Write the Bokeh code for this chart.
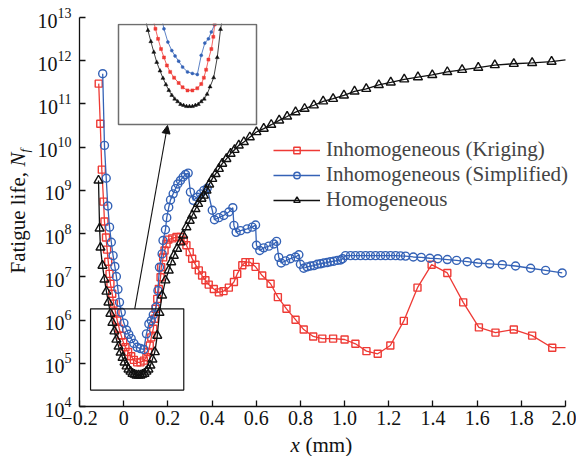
import math
from bokeh.plotting import figure
from bokeh.models import (Range1d, LogScale, LinearScale, FixedTicker, Label, Legend,
                          LegendItem, Arrow, NormalHead)
from bokeh.embed import file_html
from bokeh.resources import INLINE

# ---------------- data ----------------
x_ticks = [-0.2, 0, 0.2, 0.4, 0.6, 0.8, 1.0, 1.2, 1.4, 1.6, 1.8, 2.0]
x_tick_labels = ["\u22120.2", "0", "0.2", "0.4", "0.6", "0.8", "1.0", "1.2", "1.4", "1.6", "1.8", "2.0"]
y_ticks = [1e4, 1e5, 1e6, 1e7, 1e8, 1e9, 1e10, 1e11, 1e12, 1e13]

series_names = ["Inhomogeneous (Kriging)", "Inhomogeneous (Simplified)", "Homogeneous"]

homo_x = [-0.114, -0.109, -0.105, -0.096, -0.087, -0.078, -0.069, -0.060, -0.051, -0.042,
          -0.033, -0.023, -0.014, -0.005, 0.004, 0.013, 0.022, 0.031, 0.040, 0.049,
          0.058, 0.067, 0.076, 0.085, 0.094, 0.103, 0.112, 0.121, 0.130, 0.141,
          0.152, 0.162, 0.174, 0.189, 0.204, 0.215, 0.227, 0.242, 0.257, 0.269,
          0.284, 0.299, 0.310, 0.325, 0.337, 0.352, 0.363, 0.375, 0.387, 0.401,
          0.416, 0.431, 0.446, 0.465, 0.484, 0.502, 0.521, 0.544, 0.571, 0.601,
          0.634, 0.668, 0.704, 0.740, 0.778, 0.819, 0.861, 0.903, 0.948, 0.997,
          1.045, 1.098, 1.155, 1.209, 1.270, 1.332, 1.397, 1.465, 1.532, 1.605,
          1.680, 1.766, 1.849, 1.937]
homo_N = [1.70e9, 1.32e8, 4.79e7, 1.82e7, 8.71e6, 4.57e6, 2.57e6, 1.41e6, 8.71e5, 5.50e5,
          3.55e5, 2.45e5, 1.78e5, 1.35e5, 1.05e5, 8.51e4, 7.24e4, 6.46e4, 5.75e4, 5.50e4,
          5.25e4, 5.25e4, 5.25e4, 5.50e4, 5.75e4, 6.46e4, 7.24e4, 8.91e4, 1.23e5, 1.82e5,
          4.37e5, 1.48e6, 3.72e6, 8.32e6, 1.41e7, 2.19e7, 3.09e7, 4.47e7, 6.31e7, 9.12e7,
          1.41e8, 2.00e8, 2.63e8, 3.72e8, 4.90e8, 6.46e8, 7.59e8, 1.00e9, 1.38e9, 1.86e9,
          2.40e9, 3.16e9, 4.17e9, 5.37e9, 7.08e9, 8.71e9, 1.10e10, 1.32e10, 1.70e10, 2.24e10,
          2.69e10, 3.31e10, 4.17e10, 5.13e10, 6.46e10, 7.76e10, 9.33e10, 1.15e11, 1.32e11, 1.58e11,
          1.95e11, 2.24e11, 2.75e11, 3.16e11, 3.72e11, 4.17e11, 4.68e11, 5.50e11, 6.17e11, 6.92e11,
          7.94e11, 8.51e11, 8.91e11, 9.55e11]
homo_tail_x = [2.0]
homo_tail_N = [1.05e12]

simp_x = [-0.095, -0.087, -0.079, -0.072, -0.064, -0.056, -0.048, -0.040, -0.033, -0.026,
          -0.019, -0.011, 0.001, 0.013, 0.023, 0.034, 0.046, 0.061, 0.076, 0.091,
          0.103, 0.114, 0.125, 0.134, 0.147, 0.155, 0.162, 0.174, 0.178, 0.189,
          0.195, 0.204, 0.212, 0.224, 0.235, 0.245, 0.257, 0.269, 0.280, 0.292,
          0.302, 0.315, 0.333, 0.348, 0.363, 0.378, 0.401, 0.411, 0.431, 0.453,
          0.476, 0.494, 0.499, 0.509, 0.529, 0.559, 0.582, 0.597, 0.601, 0.616,
          0.634, 0.657, 0.680, 0.692, 0.702, 0.713, 0.733, 0.755, 0.778, 0.793,
          0.800, 0.815, 0.830, 0.846, 0.861, 0.876, 0.891, 0.906, 0.921, 0.936,
          0.951, 0.967, 0.982, 0.991, 1.004, 1.027, 1.049, 1.072, 1.095, 1.117,
          1.140, 1.163, 1.185, 1.208, 1.231, 1.253, 1.276, 1.311, 1.347, 1.386,
          1.422, 1.465, 1.507, 1.555, 1.603, 1.657, 1.714, 1.774, 1.842, 1.910,
          1.985]
simp_N = [5.01e11, 1.10e10, 1.91e9, 4.37e8, 1.41e8, 6.31e7, 3.09e7, 1.74e7, 1.02e7, 5.13e6,
          2.57e6, 1.51e6, 8.51e5, 5.89e5, 4.68e5, 3.72e5, 2.88e5, 2.34e5, 2.19e5, 2.09e5,
          4.79e5, 8.13e5, 9.77e5, 1.32e6, 2.00e6, 4.79e6, 1.66e7, 3.39e7, 6.92e7, 1.23e8,
          2.34e8, 4.07e8, 6.03e8, 8.32e8, 1.10e9, 1.41e9, 1.70e9, 2.04e9, 2.34e9, 2.51e9,
          9.12e8, 5.89e8, 6.92e8, 8.32e8, 1.00e9, 1.12e9, 3.47e8, 2.09e8, 2.34e8, 2.63e8,
          3.16e8, 3.98e8, 1.55e8, 1.07e8, 1.17e8, 1.29e8, 1.41e8, 1.58e8, 5.37e7, 4.07e7,
          4.68e7, 5.13e7, 5.75e7, 6.61e7, 2.82e7, 2.09e7, 2.34e7, 2.63e7, 2.88e7, 3.24e7,
          1.95e7, 1.58e7, 1.70e7, 1.78e7, 1.82e7, 1.95e7, 2.00e7, 2.09e7, 2.14e7, 2.24e7,
          2.29e7, 2.40e7, 2.45e7, 2.63e7, 3.09e7, 3.09e7, 3.09e7, 3.09e7, 3.09e7, 3.09e7,
          3.09e7, 3.09e7, 3.09e7, 3.09e7, 3.09e7, 3.05e7, 3.02e7, 2.88e7, 2.82e7, 2.69e7,
          2.63e7, 2.51e7, 2.40e7, 2.24e7, 2.09e7, 2.00e7, 1.91e7, 1.78e7, 1.58e7, 1.41e7,
          1.23e7]

krig_x = [-0.113, -0.106, -0.099, -0.091, -0.087, -0.080, -0.075, -0.070, -0.064, -0.060,
          -0.052, -0.045, -0.037, -0.029, -0.020, -0.011, -0.002, 0.008, 0.020, 0.034,
          0.046, 0.061, 0.076, 0.091, 0.103, 0.111, 0.118, 0.125, 0.134, 0.140,
          0.144, 0.152, 0.159, 0.167, 0.170, 0.179, 0.185, 0.194, 0.202, 0.220,
          0.239, 0.257, 0.272, 0.284, 0.299, 0.310, 0.325, 0.340, 0.355, 0.370,
          0.385, 0.408, 0.431, 0.452, 0.476, 0.499, 0.514, 0.537, 0.551, 0.571,
          0.597, 0.627, 0.665, 0.698, 0.737, 0.778, 0.815, 0.858, 0.899, 0.948,
          1.000, 1.049, 1.099, 1.150, 1.207, 1.268, 1.330, 1.394, 1.465, 1.537,
          1.608, 1.683, 1.766, 1.849, 1.940]
krig_N = [2.95e11, 3.47e10, 3.02e9, 5.50e8, 1.91e8, 8.13e7, 4.27e7, 2.24e7, 1.17e7, 6.92e6,
          4.07e6, 2.40e6, 1.51e6, 9.77e5, 6.31e5, 4.37e5, 3.09e5, 2.34e5, 1.82e5, 1.45e5,
          1.20e5, 1.05e5, 1.05e5, 1.15e5, 1.38e5, 1.82e5, 2.57e5, 3.98e5, 6.31e5, 1.07e6,
          1.82e6, 3.09e6, 5.25e6, 9.77e6, 1.66e7, 2.82e7, 4.07e7, 5.75e7, 7.24e7, 7.76e7,
          8.32e7, 8.32e7, 6.92e7, 5.37e7, 3.72e7, 2.63e7, 1.91e7, 1.41e7, 1.07e7, 8.32e6,
          6.61e6, 5.25e6, 4.37e6, 4.68e6, 5.62e6, 7.59e6, 1.17e7, 1.86e7, 2.19e7, 2.19e7,
          1.70e7, 1.07e7, 6.92e6, 3.39e6, 1.82e6, 1.02e6, 6.03e5, 4.17e5, 3.72e5, 3.72e5,
          3.55e5, 2.82e5, 1.91e5, 1.66e5, 2.57e5, 9.55e5, 5.62e6, 1.91e7, 1.23e7, 2.57e6,
          6.76e5, 5.13e5, 6.03e5, 4.37e5, 2.29e5]
krig_tail_x = [2.0]
krig_tail_N = [2.29e5]

# magnified window shown in the inset (data units)
zoom_x = (-0.15, 0.272)
zoom_N = (2.40e4, 1.82e6)

# ---------------- layout / style ----------------
W, H = 576, 456
AL, AR, AT, AB = 79, 565, 17, 406           # axes area (px)
IL, IR, IT, IB = 118, 256, 24, 124          # inset box (px)
X0, X1, D0, D1 = -0.2, 2.0, 4, 13           # axis limits (x, decades)
FONT = "Liberation Serif"
RED = "#EE3A35"
BLUE = "#3462B6"
BLACK = "#111111"


def xd(px):
    """data x at a pixel column"""
    return X0 + (px - AL) * (X1 - X0) / (AR - AL)


def yd(py):
    """data N at a pixel row (log axis)"""
    return 10 ** (D0 + (AB - py) * (D1 - D0) / (AB - AT))


# the frame fills the whole canvas; the axes are pinned to the data limits
p = figure(width=W, height=H, x_range=Range1d(xd(0), xd(W)), y_range=Range1d(yd(H), yd(0)),
           y_axis_type="log", output_backend="svg", toolbar_location=None,
           min_border_left=0, min_border_right=0, min_border_top=0, min_border_bottom=0)
p.outline_line_color = None
p.grid.visible = False
p.background_fill_color = "white"
p.border_fill_color = "white"

# inset coordinate system mapped onto the inset box
sx = (IR - IL) / (zoom_x[1] - zoom_x[0])
ly0, ly1 = math.log10(zoom_N[0]), math.log10(zoom_N[1])
sy = (IB - IT) / (ly1 - ly0)
p.extra_x_ranges = {"ix": Range1d(zoom_x[0] - IL / sx, zoom_x[1] + (W - IR) / sx)}
p.extra_y_ranges = {"iy": Range1d(10 ** (ly0 - (H - IB) / sy), 10 ** (ly1 + IT / sy))}
p.extra_x_scales = {"ix": LinearScale()}
p.extra_y_scales = {"iy": LogScale()}

# axes
p.xaxis.fixed_location = 10 ** D0
p.xaxis.bounds = (X0, X1)
p.yaxis.fixed_location = X0
p.yaxis.bounds = (10 ** D0, 10 ** D1)
p.xaxis.ticker = FixedTicker(ticks=x_ticks)
p.xaxis.major_label_overrides = dict(zip(x_ticks, x_tick_labels))
p.yaxis.ticker = FixedTicker(ticks=y_ticks)
for ax in p.axis:
    ax.major_tick_in = 6
    ax.major_tick_out = 0
    ax.minor_tick_line_color = None
    ax.axis_line_width = 1.3
    ax.axis_line_color = BLACK
    ax.major_tick_line_width = 1.3
    ax.major_tick_line_color = BLACK
    ax.major_label_text_font = FONT
    ax.major_label_text_font_size = "20px"
    ax.major_label_text_color = BLACK
p.xaxis.major_label_standoff = 4
p.yaxis.major_label_standoff = 8

# main curves
series = [
    (krig_x, krig_N, krig_tail_x, krig_tail_N, RED, "square", 7),
    (simp_x, simp_N, [], [], BLUE, "circle", 8),
    (homo_x, homo_N, homo_tail_x, homo_tail_N, BLACK, "triangle", 9),
]
items = []
for (xs, ns, tx, tn, col, mk, sz), name in zip(series, series_names):
    ln = p.line(xs + tx, ns + tn, line_color=col, line_width=1.3)
    sc = p.scatter(xs, ns, marker=mk, size=sz, line_color=col, fill_color=None, line_width=1.4)
    items.append(LegendItem(label=name, renderers=[ln, sc]))

# magnification box in the main plot
p.quad(left=zoom_x[0], right=zoom_x[1], bottom=zoom_N[0], top=zoom_N[1],
       fill_color=None, line_color=BLACK, line_width=1.2)

# inset: same curves, restricted to the magnified window
p.quad(left=zoom_x[0], right=zoom_x[1], bottom=zoom_N[0], top=zoom_N[1],
       fill_color="white", line_color=None, x_range_name="ix", y_range_name="iy")
inset_marks = [(krig_x, krig_N, RED, "square", 3), (simp_x, simp_N, BLUE, "circle", 3),
               (homo_x, homo_N, BLACK, "triangle", 4)]
for xs, ns, col, mk, sz in inset_marks:
    keep = [(a, b) for a, b in zip(xs, ns) if zoom_x[0] <= a <= zoom_x[1]]
    p.line([a for a, _ in keep], [b for _, b in keep], line_color=col, line_width=0.8,
           x_range_name="ix", y_range_name="iy")
    inside = [(a, b) for a, b in keep if zoom_N[0] <= b <= zoom_N[1]]
    p.scatter([a for a, _ in inside], [b for _, b in inside], marker=mk, size=sz,
              line_color=col, fill_color=col, line_width=0.5,
              x_range_name="ix", y_range_name="iy")
p.quad(left=zoom_x[0], right=zoom_x[1], bottom=zoom_N[0], top=zoom_N[1],
       fill_color=None, line_color="#6E6E6E", line_width=1.5, x_range_name="ix", y_range_name="iy")
# hide the parts of the inset curves running above the inset box (drawn last)
p.quad(left=zoom_x[0] - 0.01, right=zoom_x[1] + 0.01, bottom=zoom_N[1] * 10 ** (1.0 / sy),
       top=p.extra_y_ranges["iy"].end * 1e3, fill_color="white", line_color=None,
       x_range_name="ix", y_range_name="iy", level="overlay")

# arrow from the box to the inset
p.add_layout(Arrow(end=NormalHead(size=8, fill_color=BLACK, line_color=BLACK, line_width=1),
                   x_start=0.05, y_start=zoom_N[1], x_end=xd(167), y_end=yd(IB + 1),
                   line_color=BLACK, line_width=1.1))

# legend (location relative to the frame's bottom-left corner)
legend = Legend(items=items, location=(273, H - 212), orientation="vertical",
                glyph_width=47, glyph_height=16, label_height=16, label_standoff=6,
                label_text_font=FONT, label_text_font_size="21px", padding=0, spacing=0,
                margin=0, border_line_color=None, background_fill_alpha=0)
p.add_layout(legend)


# axis titles, positioned through the scales (anchor = middle of the text line)
def title_piece(text, px, py, size="21px", style="normal", angle=0.0):
    return Label(x=xd(px), y=yd(py), x_units="data", y_units="data", text=text,
                 angle=angle, text_font=FONT, text_font_style=style, text_font_size=size,
                 text_align="left", text_baseline="middle", text_color=BLACK)


p.add_layout(title_piece("x", 290, 444, style="italic"))
p.add_layout(title_piece("(mm)", 305, 444))
p.add_layout(title_piece("Fatigue life,", 17, 273, angle=math.pi / 2))
p.add_layout(title_piece("N", 17, 166, style="italic", angle=math.pi / 2))
p.add_layout(title_piece("f", 23.5, 152, size="13px", style="italic", angle=math.pi / 2))

open("out.html", "w").write(file_html(p, INLINE))
